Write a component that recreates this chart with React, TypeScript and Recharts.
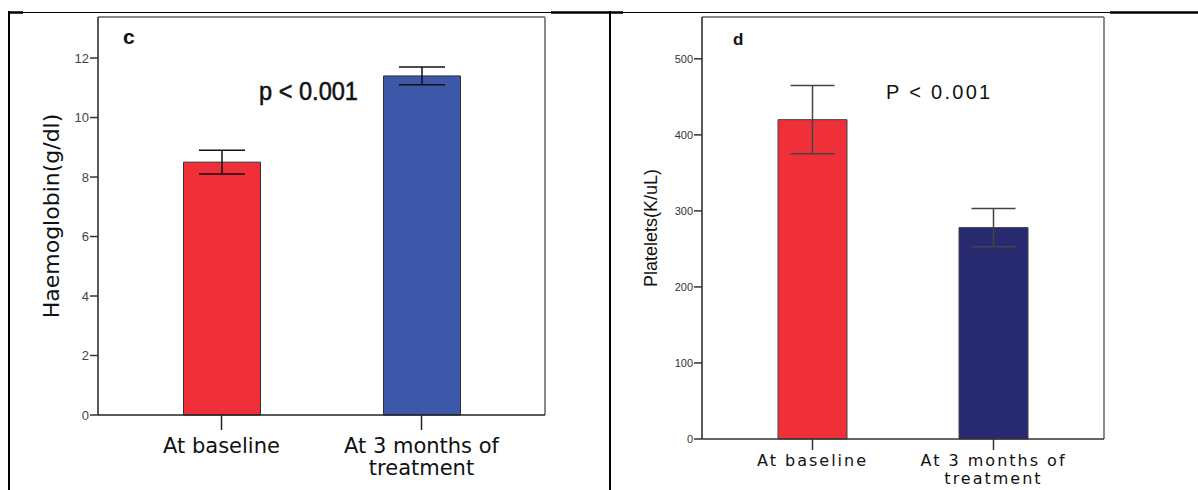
import React from 'react';
import { BarChart, Bar, XAxis, YAxis, ErrorBar, Cell, CartesianGrid } from 'recharts';

// ---- Data ----
const categories = ['At baseline', 'At 3 months of treatment'];
const categoryLines = [['At baseline'], ['At 3 months of', 'treatment']];

const hbMean = [8.5, 11.4];
const hbLow = [8.1, 11.1];
const hbHigh = [8.9, 11.7];
const hbTicks = [0, 2, 4, 6, 8, 10, 12];
const hbMax = 13.38;
const hbColors = ['#EF3038', '#3D58A9'];

const pltMean = [420, 278];
const pltLow = [375, 253];
const pltHigh = [465, 303];
const pltTicks = [0, 100, 200, 300, 400, 500];
const pltMax = 555;
const pltColors = ['#EF3038', '#282A70'];

const hbData = categories.map((name, i) => ({
  name,
  value: hbMean[i],
  err: [hbMean[i] - hbLow[i], hbHigh[i] - hbMean[i]],
}));
const pltData = categories.map((name, i) => ({
  name,
  value: pltMean[i],
  err: [pltMean[i] - pltLow[i], pltHigh[i] - pltMean[i]],
}));

const SANS = '"Liberation Sans", Arial, sans-serif';
const DEJAVU = '"DejaVu Sans", Verdana, sans-serif';

// frame (top and right edges of the plot area) derived from the chart's offset
const topEdge = (p: any) => [p.offset.top];
const rightEdge = (p: any) => [p.offset.left + p.offset.width];

const makeXTick = (fontSize: number, dy1: number, lineH: number, spacing: number) => (props: any) => {
  const { x, y, payload } = props;
  const lines = categoryLines[payload.index] || [String(payload.value)];
  return (
    <g>
      {lines.map((ln, k) => (
        <text
          key={k}
          x={x}
          y={y + dy1 + k * lineH}
          textAnchor="middle"
          fontFamily={DEJAVU}
          fontSize={fontSize}
          letterSpacing={spacing}
          fill="#111"
        >
          {ln}
        </text>
      ))}
    </g>
  );
};

const makeYLabel = (text: string, dx: number, fontSize: number, family: string) => (props: any) => {
  const vb = props.viewBox || { x: 0, y: 0, width: 0, height: 0 };
  const cx = vb.x + dx;
  const cy = vb.y + vb.height / 2;
  return (
    <text
      x={cx}
      y={cy}
      transform={`rotate(-90, ${cx}, ${cy})`}
      textAnchor="middle"
      fontFamily={family}
      fontSize={fontSize}
      fill="#111"
    >
      {text}
    </text>
  );
};

export default function App() {
  return (
    <div style={{ position: 'absolute', left: 0, top: 0, width: 1198, height: 490, background: '#fff', overflow: 'hidden' }}>
      {/* Left panel */}
      <div style={{ position: 'absolute', left: 0, top: 0 }}>
        <BarChart width={600} height={490} data={hbData} margin={{ top: 17, right: 55, bottom: 15, left: 48 }}>
          <CartesianGrid
            stroke="#8a8a8a"
            strokeWidth={2}
            horizontalCoordinatesGenerator={topEdge}
            verticalCoordinatesGenerator={rightEdge}
          />
          <XAxis
            dataKey="name"
            height={60}
            padding={{ left: 23.5, right: 23.5 }}
            tickSize={15}
            tickLine={{ stroke: '#222', strokeWidth: 1.5 }}
            axisLine={{ stroke: '#222', strokeWidth: 1.5 }}
            tick={makeXTick(21, 21, 22, 0)}
            interval={0}
          />
          <YAxis
            width={50}
            domain={[0, hbMax]}
            ticks={hbTicks}
            tickSize={8}
            tickLine={{ stroke: '#333', strokeWidth: 1.5 }}
            axisLine={{ stroke: '#222', strokeWidth: 1.5 }}
            tick={{ fontFamily: SANS, fontSize: 13, fill: '#444' }}
            tickMargin={1}
            label={makeYLabel('Haemoglobin(g/dl)', 10.5, 22, DEJAVU)}
          />
          <Bar dataKey="value" barSize={77} stroke="#333" strokeWidth={1} isAnimationActive={false}>
            {hbData.map((_, i) => (
              <Cell key={i} fill={hbColors[i]} />
            ))}
            <ErrorBar dataKey="err" width={23} stroke="#111" strokeWidth={1.5} />
          </Bar>
        </BarChart>
      </div>

      {/* Right panel */}
      <div style={{ position: 'absolute', left: 600, top: 0 }}>
        <BarChart width={598} height={490} data={pltData} margin={{ top: 17, right: 94, bottom: 1, left: 52 }}>
          <CartesianGrid
            stroke="#8a8a8a"
            strokeWidth={2}
            horizontalCoordinatesGenerator={topEdge}
            verticalCoordinatesGenerator={rightEdge}
          />
          <XAxis
            dataKey="name"
            height={50}
            padding={{ left: 20, right: 20 }}
            tickSize={11}
            tickLine={{ stroke: '#333', strokeWidth: 1.5 }}
            axisLine={{ stroke: '#333', strokeWidth: 1.5 }}
            tick={makeXTick(16, 14, 18, 2)}
            interval={0}
          />
          <YAxis
            width={50}
            domain={[0, pltMax]}
            ticks={pltTicks}
            tickSize={8}
            tickLine={{ stroke: '#333', strokeWidth: 1.5 }}
            axisLine={{ stroke: '#222', strokeWidth: 1.5 }}
            tick={{ fontFamily: SANS, fontSize: 11, fill: '#333' }}
            tickMargin={1}
            label={makeYLabel('Platelets(K/uL)', 5, 18, SANS)}
          />
          <Bar dataKey="value" barSize={69} stroke="#444" strokeWidth={1} isAnimationActive={false}>
            {pltData.map((_, i) => (
              <Cell key={i} fill={pltColors[i]} />
            ))}
            <ErrorBar dataKey="err" width={22} stroke="#444" strokeWidth={1.5} />
          </Bar>
        </BarChart>
      </div>

      {/* Annotations and table lines */}
      <svg width={1198} height={490} style={{ position: 'absolute', left: 0, top: 0, pointerEvents: 'none' }}>
        <line x1={8} y1={12.5} x2={1198} y2={12.5} stroke="#000" strokeWidth={1} />
        <line x1={8} y1={12.5} x2={23} y2={12.5} stroke="#000" strokeWidth={2.5} />
        <line x1={551} y1={12.5} x2={623} y2={12.5} stroke="#000" strokeWidth={2.5} />
        <line x1={1110} y1={12.5} x2={1198} y2={12.5} stroke="#000" strokeWidth={2.5} />
        <line x1={9} y1={11} x2={9} y2={490} stroke="#000" strokeWidth={2} />
        <line x1={610} y1={11} x2={610} y2={490} stroke="#000" strokeWidth={2} />

        <text x={123} y={44} fontFamily={SANS} fontWeight="bold" fontSize={21} fill="#111">c</text>
        <text x={259} y={100} fontFamily={SANS} fontSize={25} fill="#111" stroke="#111" strokeWidth={0.5} textLength={99} lengthAdjust="spacingAndGlyphs">p &lt; 0.001</text>
        <text x={733} y={45} fontFamily={SANS} fontWeight="bold" fontSize={17} fill="#111">d</text>
        <text x={886} y={99} fontFamily={SANS} fontSize={20} fill="#111" letterSpacing={2.3}>P &lt; 0.001</text>
      </svg>
    </div>
  );
}
